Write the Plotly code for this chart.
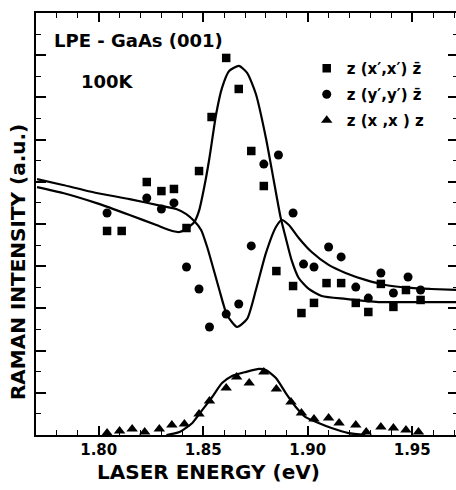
import plotly.graph_objects as go

# ---------------- data ----------------
sq_x = [1.804, 1.811, 1.823, 1.830, 1.836, 1.842, 1.848, 1.854, 1.861, 1.867, 1.873, 1.879,
        1.885, 1.893, 1.897, 1.903, 1.909, 1.916, 1.923, 1.929, 1.935, 1.941, 1.947, 1.954]
sq_y = [9.67, 9.67, 11.99, 11.56, 11.66, 9.81, 12.51, 15.07, 17.87, 16.40, 13.46, 11.80,
        7.77, 7.06, 5.78, 6.26, 7.20, 7.20, 6.26, 5.83, 7.16, 6.07, 6.87, 6.40]

ci_x = [1.804, 1.823, 1.830, 1.836, 1.842, 1.848, 1.853, 1.861, 1.867, 1.873, 1.879, 1.886,
        1.893, 1.898, 1.903, 1.910, 1.916, 1.923, 1.929, 1.935, 1.941, 1.948, 1.954]
ci_y = [10.52, 11.23, 10.71, 11.00, 7.96, 6.92, 5.12, 5.73, 6.21, 8.96, 12.84, 13.27,
        10.52, 8.10, 7.96, 8.91, 8.44, 7.01, 6.49, 7.68, 6.73, 7.49, 6.87]

tr_x = [1.804, 1.810, 1.816, 1.822, 1.829, 1.835, 1.841, 1.848, 1.853, 1.861, 1.866, 1.872,
        1.879, 1.885, 1.892, 1.897, 1.903, 1.910, 1.915, 1.923, 1.928, 1.935, 1.941, 1.947, 1.953]
tr_y = [0.09, 0.19, 0.28, 0.14, 0.28, 0.47, 0.52, 1.00, 1.61, 2.23, 2.75, 2.46,
        2.99, 2.18, 1.56, 1.04, 0.76, 0.81, 0.57, 0.47, 0.14, 0.38, 0.33, 0.24, 0.14]

fit_sq_x = [1.7705, 1.7829, 1.7990, 1.8148, 1.8276, 1.8352, 1.8386, 1.8424, 1.8457, 1.8481,
            1.8505, 1.8529, 1.8562, 1.8590, 1.8624, 1.8671, 1.8710, 1.8752, 1.8800, 1.8838,
            1.8871, 1.8895, 1.8924, 1.8957, 1.9005, 1.9067, 1.9181, 1.9338, 1.9495, 1.9720]
fit_sq_y = [11.75, 11.47, 10.99, 10.43, 9.95, 9.67, 9.62, 9.81, 10.09, 10.66,
            11.75, 13.08, 15.21, 16.45, 17.25, 17.49, 17.16, 16.16, 14.08, 12.04,
            10.28, 9.34, 8.25, 7.44, 6.92, 6.59, 6.45, 6.30, 6.30, 6.30]

fit_ci_x = [1.7705, 1.7829, 1.7990, 1.8148, 1.8305, 1.8371, 1.8419, 1.8457, 1.8490, 1.8519,
            1.8576, 1.8614, 1.8662, 1.8710, 1.8752, 1.8800, 1.8848, 1.8876, 1.8910, 1.8957,
            1.9019, 1.9100, 1.9181, 1.9276, 1.9371, 1.9495, 1.9590, 1.9720]
fit_ci_y = [12.13, 11.85, 11.47, 11.18, 10.85, 10.71, 10.47, 10.14, 9.72, 8.91,
            6.92, 5.69, 5.12, 5.50, 6.87, 8.62, 9.86, 10.19, 9.95, 9.34,
            8.67, 8.06, 7.68, 7.35, 7.11, 6.97, 6.92, 6.87]

fit_tr_x = [1.8324, 1.8386, 1.8448, 1.8495, 1.8543, 1.8590, 1.8638, 1.8705, 1.8767, 1.8800,
            1.8848, 1.8895, 1.8943, 1.8990, 1.9052, 1.9114, 1.9195, 1.9276]
fit_tr_y = [0.00, 0.14, 0.57, 1.18, 1.80, 2.46, 2.80, 2.99, 3.13, 3.08,
            2.70, 1.99, 1.33, 0.85, 0.57, 0.33, 0.09, 0.00]

legend_names = ["z (x\u2032,x\u2032) z\u0304", "z (y\u2032,y\u2032) z\u0304", "z (x ,x ) z"]
x_tick_vals = [1.80, 1.85, 1.90, 1.95]
x_tick_text = ["1.80", "1.85", "1.90", "1.95"]

FONT = "DejaVu Sans"

fig = go.Figure()
line_style = dict(color="black", width=2.2, shape="spline", smoothing=0.6)
for fx, fy in [(fit_sq_x, fit_sq_y), (fit_ci_x, fit_ci_y), (fit_tr_x, fit_tr_y)]:
    fig.add_trace(go.Scatter(x=fx, y=fy, mode="lines", line=line_style,
                             showlegend=False, hoverinfo="skip", cliponaxis=True))

fig.add_trace(go.Scatter(x=sq_x, y=sq_y, mode="markers", name=legend_names[0],
                         marker=dict(symbol="square", size=8.5, color="black"),
                         legendgroup="a", cliponaxis=False))
fig.add_trace(go.Scatter(x=ci_x, y=ci_y, mode="markers", name=legend_names[1],
                         marker=dict(symbol="circle", size=9, color="black"),
                         legendgroup="b", cliponaxis=False))
fig.add_trace(go.Scatter(x=tr_x, y=tr_y, mode="markers", name=legend_names[2],
                         marker=dict(symbol="triangle-up", size=10, color="black"),
                         legendgroup="c", cliponaxis=False))

W, H = 460, 490
L, T, B = 36, 13, 55
PW, PH = W - L, H - T - B

fig.update_layout(
    width=W, height=H,
    margin=dict(l=L, r=0, t=T, b=B),
    paper_bgcolor="white", plot_bgcolor="white",
    font=dict(family=FONT, color="black", size=15),
    showlegend=True,
    legend=dict(x=(308 - L) / PW, y=(435 - 52) / PH, xanchor="left", yanchor="top",
                bgcolor="rgba(0,0,0,0)", itemwidth=30, tracegroupgap=3.5,
                font=dict(family=FONT, size=15, color="black", weight="bold"),
                traceorder="grouped"),
    xaxis=dict(range=[1.77, 1.77 + PW / 2100], showline=True, linecolor="black", linewidth=2,
               mirror="ticks", ticks="inside", ticklen=9, tickwidth=1.5, tickcolor="black",
               tickvals=x_tick_vals, ticktext=x_tick_text, showgrid=False, zeroline=False,
               tickfont=dict(family=FONT, size=15, color="black", weight="bold"),
               minor=dict(dtick=0.01, tick0=1.80, ticks="inside", ticklen=5, tickwidth=1.2,
                          tickcolor="black", showgrid=False)),
    yaxis=dict(range=[0, 20], showline=True, linecolor="black", linewidth=2,
               mirror="ticks", ticks="inside", ticklen=10, tickwidth=1.5, tickcolor="black",
               dtick=2, tick0=0, showticklabels=False, showgrid=False, zeroline=False,
               minor=dict(dtick=1, ticks="inside", ticklen=5, tickwidth=1.2,
                          tickcolor="black", showgrid=False)),
)

def px_x(p):
    return (p - L) / PW

def px_y(p):
    return (435 - p) / PH

fig.add_annotation(text="LASER ENERGY (eV)", xref="paper", yref="paper",
                   x=px_x(209), y=px_y(472), xanchor="center", yanchor="middle",
                   showarrow=False, font=dict(family=FONT, size=20, color="black", weight="bold"))
fig.add_annotation(text="RAMAN INTENSITY (a.u.)", xref="paper", yref="paper",
                   x=px_x(18), y=px_y(262), xanchor="center", yanchor="middle",
                   textangle=-90, showarrow=False,
                   font=dict(family=FONT, size=20, color="black", weight="bold"))
fig.add_annotation(text="LPE - GaAs (001)", xref="paper", yref="paper",
                   x=px_x(52), y=px_y(40), xanchor="left", yanchor="middle",
                   showarrow=False, font=dict(family=FONT, size=18, color="black", weight="bold"))
fig.add_annotation(text="100K", xref="paper", yref="paper",
                   x=px_x(79), y=px_y(82), xanchor="left", yanchor="middle",
                   showarrow=False, font=dict(family=FONT, size=18, color="black", weight="bold"))

fig.write_html("out.html", config={"displayModeBar": False},
               post_script="document.body.style.margin='0';document.body.style.overflow='hidden';")
